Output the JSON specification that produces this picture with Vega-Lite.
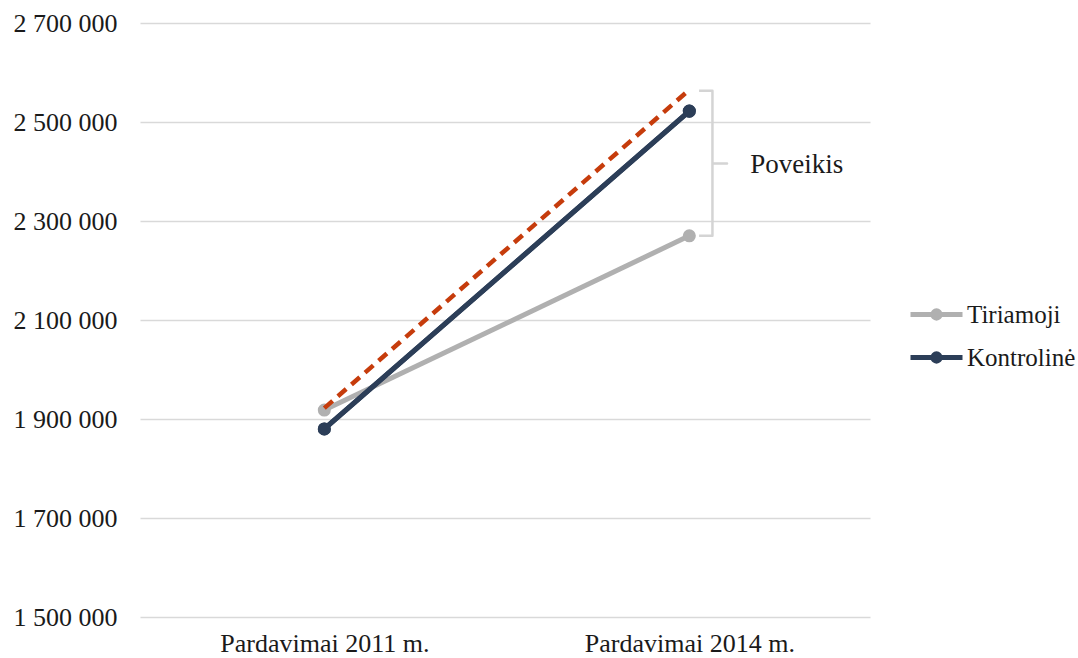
{
  "$schema": "https://vega.github.io/schema/vega-lite/v6.json",
  "width": 730,
  "height": 594,
  "autosize": {"type": "none"},
  "padding": {"left": 140, "top": 23, "right": 208, "bottom": 41},
  "background": "white",
  "config": {"view": {"stroke": null}, "font": "Liberation Serif"},
  "datasets": {
    "series": [
      {"period": 2011, "series": "Tiriamoji", "sales": 1918000},
      {"period": 2014, "series": "Tiriamoji", "sales": 2270000},
      {"period": 2011, "series": "Kontrolinė", "sales": 1880000},
      {"period": 2014, "series": "Kontrolinė", "sales": 2522000}
    ],
    "counterfactual": [
      {"period": 2011, "sales": 1922000},
      {"period": 2014, "sales": 2565000}
    ],
    "brace": [
      {"period": 2014.08, "sales": 2563000, "step": 1},
      {"period": 2014.19, "sales": 2563000, "step": 2},
      {"period": 2014.19, "sales": 2416000, "step": 3},
      {"period": 2014.31, "sales": 2416000, "step": 4},
      {"period": 2014.19, "sales": 2416000, "step": 5},
      {"period": 2014.19, "sales": 2270000, "step": 6},
      {"period": 2014.08, "sales": 2270000, "step": 7}
    ],
    "note": [
      {"period": 2014.5, "sales": 2413000, "text": "Poveikis"}
    ]
  },
  "layer": [
    {
      "data": {"name": "brace"},
      "mark": {"type": "line", "color": "#d4d4d4", "strokeWidth": 2.5, "strokeJoin": "round"},
      "encoding": {
        "x": {
          "field": "period", "type": "quantitative",
          "scale": {"domain": [2009.485, 2015.485], "nice": false, "zero": false},
          "axis": {
            "values": [2011, 2014],
            "labelExpr": "'Pardavimai ' + datum.value + ' m.'",
            "grid": false, "domain": false, "ticks": false,
            "labelFontSize": 26, "labelPadding": 13, "labelColor": "#1a1a1a", "labelLimit": 0,
            "title": null
          }
        },
        "y": {
          "field": "sales", "type": "quantitative",
          "scale": {"domain": [1500000, 2700000], "nice": false, "zero": false},
          "axis": {
            "values": [1500000, 1700000, 1900000, 2100000, 2300000, 2500000, 2700000],
            "labelExpr": "replace(replace(format(datum.value, ','), ',', ' '), ',', ' ')",
            "grid": true, "gridColor": "#d9d9d9", "gridWidth": 1.5,
            "domain": false, "ticks": false,
            "labelFontSize": 26, "labelPadding": 23, "labelColor": "#1a1a1a", "labelLimit": 0,
            "title": null
          }
        },
        "order": {"field": "step", "type": "quantitative"}
      }
    },
    {
      "data": {"name": "note"},
      "mark": {"type": "text", "align": "left", "baseline": "middle", "fontSize": 27, "color": "#1a1a1a"},
      "encoding": {
        "x": {"field": "period", "type": "quantitative"},
        "y": {"field": "sales", "type": "quantitative"},
        "text": {"field": "text"}
      }
    },
    {
      "data": {"name": "series"},
      "mark": {"type": "line", "strokeWidth": 5},
      "encoding": {
        "x": {"field": "period", "type": "quantitative"},
        "y": {"field": "sales", "type": "quantitative"},
        "color": {
          "field": "series", "type": "nominal",
          "scale": {"domain": ["Tiriamoji", "Kontrolinė"], "range": ["#b0b0b0", "#2c3e58"]},
          "legend": {
            "orient": "none", "legendX": 768, "legendY": 263,
            "title": null, "labelFontSize": 25, "labelColor": "#1a1a1a", "labelLimit": 0,
            "symbolType": "M-1,0L1,0M0.14,0A0.14,0.14,0,1,1,-0.14,0A0.14,0.14,0,1,1,0.14,0Z",
            "symbolSize": 2704, "symbolStrokeWidth": 5, "labelOffset": 2, "rowPadding": -13,
            "encode": {"symbols": {"update": {"fill": {"field": "value", "scale": "color"}, "stroke": {"field": "value", "scale": "color"}}}}
          }
        }
      }
    },
    {
      "data": {"name": "series"},
      "mark": {"type": "point", "filled": true, "size": 170, "opacity": 1},
      "encoding": {
        "x": {"field": "period", "type": "quantitative"},
        "y": {"field": "sales", "type": "quantitative"},
        "color": {"field": "series", "type": "nominal"}
      }
    },
    {
      "data": {"name": "counterfactual"},
      "mark": {"type": "line", "color": "#c63c0c", "strokeWidth": 4.5, "strokeDash": [11, 7]},
      "encoding": {
        "x": {"field": "period", "type": "quantitative"},
        "y": {"field": "sales", "type": "quantitative"}
      }
    },
    {
      "data": {"name": "series"},
      "transform": [{"filter": "datum.series == 'Kontrolinė'"}],
      "mark": {"type": "line", "strokeWidth": 5},
      "encoding": {
        "x": {"field": "period", "type": "quantitative"},
        "y": {"field": "sales", "type": "quantitative"},
        "color": {"field": "series", "type": "nominal"}
      }
    },
    {
      "data": {"name": "series"},
      "transform": [{"filter": "datum.series == 'Kontrolinė'"}],
      "mark": {"type": "point", "filled": true, "size": 170, "opacity": 1},
      "encoding": {
        "x": {"field": "period", "type": "quantitative"},
        "y": {"field": "sales", "type": "quantitative"},
        "color": {"field": "series", "type": "nominal"}
      }
    }
  ]
}
